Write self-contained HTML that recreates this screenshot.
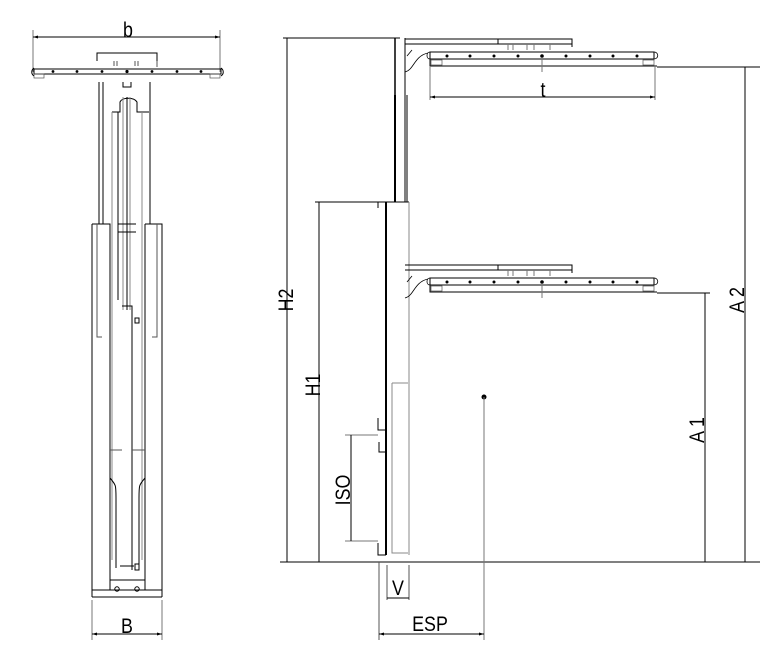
<!DOCTYPE html>
<html><head><meta charset="utf-8"><style>
html,body{margin:0;padding:0;background:#fff;}
svg{display:block;}
text{font-family:"Liberation Sans",sans-serif;fill:#000;}
</style></head><body>
<svg width="777" height="656" viewBox="0 0 777 656" xmlns="http://www.w3.org/2000/svg" fill="none" stroke-linecap="butt">
<defs>
<g id="fork">
  <path d="M405 39 H572 V47 M405 44 H572" stroke="#000" stroke-width="1"/>
  <path d="M498 39 V44" stroke="#000"/>
  <path d="M508 44 V50 M513 44 V50 M527 44 V50 M534 44 V50 M550 44 V50" stroke="#777"/>
  <path d="M407 56 L412 50 M405 72 C414 70 414 56 428 53" stroke="#000" stroke-width="0.8"/>
  <rect x="430" y="52" width="224" height="7" stroke="#000" stroke-width="1"/>
  <path d="M430 59 V66 H657" stroke="#000" stroke-width="1"/>
  <rect x="431" y="60" width="11" height="5" stroke="#555" stroke-width="0.7"/>
  <rect x="643" y="60" width="11" height="5" stroke="#555" stroke-width="0.7"/>
  <path d="M430 52 C426 52 426 59 430 59 M654 52 C659 52 659 59 654 59" stroke="#000" stroke-width="0.8"/>
  <g fill="#000">
    <circle cx="447" cy="56" r="1.5"/><circle cx="470" cy="56" r="1.5"/><circle cx="494" cy="56" r="1.5"/>
    <circle cx="518" cy="56" r="1.5"/><circle cx="542" cy="56" r="1.8"/><circle cx="566" cy="56" r="1.5"/>
    <circle cx="590" cy="56" r="1.5"/><circle cx="613" cy="56" r="1.5"/><circle cx="637" cy="56" r="1.5"/>
  </g>
  <path d="M542 59 V72" stroke="#777"/>
</g>
</defs>

<g stroke-width="1">
  <path d="M33 30 V72 M220 30 V72" stroke="#777"/>
  <path d="M33 37 H220" stroke="#000"/>
  <path d="M33 37 l5 -1.5 v3 z M220 37 l-5 -1.5 v3 z" fill="#000" stroke="none"/>
  <path d="M97 61 V53 H157 V61" stroke="#000"/>
  <path d="M114 61 V66 M117 61 V66 M135 61 V66 M138 61 V66 M157 61 V67" stroke="#555"/>
  <rect x="34" y="69" width="187" height="5" stroke="#000"/>
  <rect x="34" y="74" width="10" height="4" stroke="#555" stroke-width="0.7"/>
  <rect x="210" y="74" width="10" height="4" stroke="#555" stroke-width="0.7"/>
  <path d="M34 68 C31 70 31 74 34 76 M221 68 C224 70 224 74 221 76" stroke="#000"/>
  <g fill="#000">
    <circle cx="53" cy="71.5" r="1.4"/><circle cx="77" cy="71.5" r="1.4"/><circle cx="102" cy="71.5" r="1.4"/>
    <circle cx="127" cy="71.5" r="1.6"/><circle cx="152" cy="71.5" r="1.4"/><circle cx="177" cy="71.5" r="1.4"/><circle cx="201" cy="71.5" r="1.4"/>
  </g>
  <path d="M123 82 V87 H131 V82" stroke="#000"/>
  <path d="M99 82 V224 M103 82 V224" stroke="#000"/>
  <path d="M150 82 V224" stroke="#000"/>
  <path d="M112 112 H120 V102 C122 97 134 97 137 102 V112 H149" stroke="#000"/>
  <path d="M112 112 V560 M142 112 V560 M123 97 V310 M130 97 V310" stroke="#888"/>
  <path d="M118 112 V300 M127 97 V310" stroke="#000"/>
  <path d="M118 224 H136 M118 232 H136" stroke="#000"/>
  <path d="M92 224 H110 V590 M92 224 V597" stroke="#000"/>
  <path d="M97 224 V337 H102" stroke="#555"/>
  <path d="M145 224 H162 V597 M145 224 V590" stroke="#000"/>
  <path d="M157 224 V337 H152" stroke="#555"/>
  <path d="M122 306 H132 V570" stroke="#000"/>
  <path d="M135 318 h4 v5 h-4z" stroke="#000"/>
  <path d="M110 450 H122 M132 450 H145" stroke="#555"/>
  <path d="M110 478 C116 485 116 485 116 498 V568 M145 478 C139 485 139 485 139 498 V568" stroke="#000"/>
  <path d="M120 566 H134 M135 564 h4 v6 h-4z" stroke="#000"/>
  <path d="M110 580 H145 M92 590 H162 M92 597 H162" stroke="#000"/>
  <circle cx="117" cy="589" r="2.2" stroke="#000"/><circle cx="137" cy="589" r="2.2" stroke="#000"/>
  <path d="M92 600 V640 M162 600 V640" stroke="#777"/>
  <path d="M92 634 H162" stroke="#000"/>
  <path d="M92 634 l5 -1.5 v3 z M162 634 l-5 -1.5 v3 z" fill="#000" stroke="none"/>
</g>
<text font-size="21" text-anchor="middle" transform="translate(128,37) scale(0.85,1)">b</text>
<text font-size="21" text-anchor="middle" transform="translate(127,633) scale(0.85,1)">B</text>

<g stroke-width="1">
  <path d="M283 38 H400" stroke="#000"/>
  <path d="M287 38 V562" stroke="#000"/>
  <path d="M280 562 H760" stroke="#000"/>
  <path d="M395 38 V202" stroke="#000" stroke-width="1.5"/>
  <path d="M405 38 V202" stroke="#000"/>
  <path d="M395 95 V202" stroke="#000" stroke-width="2"/>
  <path d="M407 95 V202" stroke="#000"/>
  <path d="M315 202 H409" stroke="#000"/>
  <path d="M378 202 V208" stroke="#000"/>
  <path d="M386 202 V555" stroke="#000" stroke-width="2"/>
  <path d="M409 202 V555" stroke="#888"/>
  <path d="M392 383 H408 M392 383 V553 H408" stroke="#888"/>
  <path d="M319 202 V562" stroke="#000"/>
  <path d="M345 435 H378 M345 541 H378" stroke="#777"/>
  <path d="M351 435 V541" stroke="#000"/>
  <path d="M378 418 V430 H386 M379 442 V452 H386 M378 543 V555 H386" stroke="#000"/>
  <use href="#fork"/>
  <use href="#fork" transform="translate(0,226)"/>
  <path d="M430 66 V100 M655 66 V100" stroke="#777"/>
  <path d="M430 97 H655" stroke="#000"/>
  <path d="M430 97 l5 -1.5 v3 z M655 97 l-5 -1.5 v3 z" fill="#000" stroke="none"/>
  <path d="M657 67 H760 M657 293 H710" stroke="#000"/>
  <path d="M745 67 V562 M705 293 V562" stroke="#000"/>
  <circle cx="484" cy="397" r="2.5" fill="#000" stroke="none"/>
  <path d="M484 397 V640" stroke="#777"/>
  <path d="M387 565 V600 M409 565 V600" stroke="#555"/>
  <path d="M387 598 H409" stroke="#000"/>
  <path d="M379 562 V640" stroke="#555"/>
  <path d="M379 634 H484" stroke="#000"/>
  <path d="M379 634 l5 -1.5 v3 z M484 634 l-5 -1.5 v3 z" fill="#000" stroke="none"/>
</g>
<text font-size="21" text-anchor="middle" transform="translate(543,97) scale(0.85,1)">t</text>
<text font-size="21" text-anchor="middle" transform="translate(398,595) scale(0.85,1)">V</text>
<text font-size="21" text-anchor="middle" transform="translate(430,631) scale(0.85,1)">ESP</text>
<text font-size="21" text-anchor="middle" transform="translate(293,300) rotate(-90) scale(0.85,1)">H2</text>
<text font-size="21" text-anchor="middle" transform="translate(320,385) rotate(-90) scale(0.85,1)">H1</text>
<text font-size="21" text-anchor="middle" transform="translate(350,490) rotate(-90) scale(0.85,1)">ISO</text>
<text font-size="21" text-anchor="middle" transform="translate(744,300) rotate(-90) scale(0.85,1)">A 2</text>
<text font-size="21" text-anchor="middle" transform="translate(704,430) rotate(-90) scale(0.85,1)">A 1</text>
</svg>
</body></html>
